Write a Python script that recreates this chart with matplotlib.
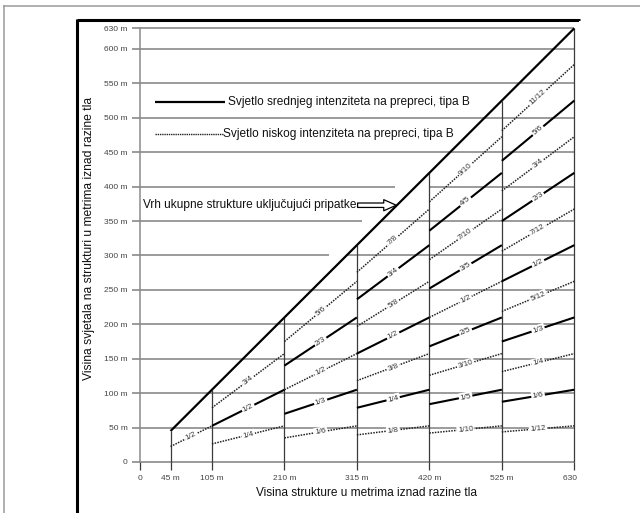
import numpy as np
import matplotlib
matplotlib.use('Agg')
import matplotlib.pyplot as plt
from matplotlib import font_manager
from matplotlib.lines import Line2D
from matplotlib.patches import Rectangle
from fractions import Fraction

# ---------------- data ----------------
structure_heights = [45, 105, 210, 315, 420, 525, 630]
x_ticks = [0, 45, 105, 210, 315, 420, 525, 630]
x_tick_labels = ['0', '45 m', '105 m', '210 m', '315 m', '420 m', '525 m', '630 m']
y_ticks = [0, 50, 100, 150, 200, 250, 300, 350, 400, 450, 500, 550, 600, 630]
y_tick_labels = ['0', '50 m', '100 m', '150 m', '200 m', '250 m', '300 m', '350 m',
                 '400 m', '450 m', '500 m', '550 m', '600 m', '630 m']
interval_starts = [45, 105, 210, 315, 420, 525]
interval_ends = [105, 210, 315, 420, 525, 630]
fractions = [
    ['1/2'],
    ['1/4', '1/2', '3/4'],
    ['1/6', '1/3', '1/2', '2/3', '5/6'],
    ['1/8', '1/4', '3/8', '1/2', '5/8', '3/4', '7/8'],
    ['1/10', '1/5', '3/10', '2/5', '1/2', '3/5', '7/10', '4/5', '9/10'],
    ['1/12', '1/6', '1/4', '1/3', '5/12', '1/2', '7/12', '2/3', '3/4', '5/6', '11/12'],
]
top_line_x = [45, 630]
top_line_y = [45, 630]
grid_gaps = {300: (274, 300), 350: (323, 350), 400: (370, 420)}

legend_medium = 'Svjetlo srednjeg intenziteta na prepreci, tipa B'
legend_low = 'Svjetlo niskog intenziteta na prepreci, tipa B'
annot_text = 'Vrh ukupne strukture uključujući pripatke'
xlabel = 'Visina strukture u metrima iznad razine tla'
ylabel = 'Visina svjetala na strukturi u metrima iznad razine tla'

# ---------------- fonts ----------------
names = {f.name for f in font_manager.fontManager.ttflist}
narrow = 'Liberation Sans Narrow' if 'Liberation Sans Narrow' in names else 'Liberation Sans'
plt.rcParams['font.family'] = [narrow, 'DejaVu Sans']

W, H = 640, 513
fig = plt.figure(figsize=(W / 100, H / 100), dpi=100)
fig.patch.set_facecolor('white')

def fx(px):
    return px / W

def fy(py):
    return 1 - py / H

# outer gray frame (top + left) and black clipped frame
fig.add_artist(Line2D([fx(4), 1], [fy(6), fy(6)], color='#9a9a9a', lw=1.1))
fig.add_artist(Line2D([fx(4), fx(4)], [fy(6), 0], color='#9a9a9a', lw=1.1))
fig.add_artist(Line2D([fx(77), fx(580)], [fy(19.5), fy(19.5)], color='black', lw=2.2, solid_capstyle='butt'))
fig.add_artist(Line2D([fx(77), fx(77)], [fy(18.5), 0], color='black', lw=2.2, solid_capstyle='butt'))

ax_l, ax_r, ax_t, ax_b = 139.5, 574.3, 28.3, 462.0
ax = fig.add_axes([fx(ax_l), fy(ax_b), fx(ax_r - ax_l), (ax_b - ax_t) / H])
ax.set_xlim(0, 630)
ax.set_ylim(0, 630)
ax.set_facecolor('none')

for s in ['top', 'right', 'bottom']:
    ax.spines[s].set_visible(False)
ax.spines['left'].set_color('#8a8a8a')
ax.spines['left'].set_linewidth(1.1)

grid_color = '#8a8a8a'
for yv in y_ticks:
    if yv in grid_gaps:
        g0, g1 = grid_gaps[yv]
        ax.hlines(yv, 0, g0, color=grid_color, lw=1.2, zorder=1, clip_on=False)
        ax.hlines(yv, g1, 630, color=grid_color, lw=1.2, zorder=1, clip_on=False)
    else:
        ax.hlines(yv, 0, 630, color=grid_color, lw=1.2, zorder=1, clip_on=False)

# structure vertical lines
for h in structure_heights:
    ax.vlines(h, 0, h, color='#3a3a3a', lw=0.9, zorder=2, clip_on=False)

# top of structure line
ax.plot(top_line_x, top_line_y, color='black', lw=1.6, zorder=3, clip_on=False,
        solid_capstyle='butt')

# fraction segments
fig.canvas.draw()
for a, b, fr_list in zip(interval_starts, interval_ends, fractions):
    for i, fs in enumerate(fr_list):
        k = float(Fraction(fs))
        dotted = (i % 2 == 0)
        if dotted:
            ax.plot([a, b], [k * a, k * b], color='#222222', lw=1.1,
                    linestyle=(0, (1, 0.8)), zorder=3, clip_on=False)
        else:
            ax.plot([a, b], [k * a, k * b], color='black', lw=1.5,
                    zorder=3, clip_on=False, solid_capstyle='butt')
        xm = (a + b) / 2
        p1 = ax.transData.transform((a, k * a))
        p2 = ax.transData.transform((b, k * b))
        ang = np.degrees(np.arctan2(p2[1] - p1[1], p2[0] - p1[0]))
        ax.text(xm, k * xm, fs, fontsize=5.8, color='#333333', rotation=ang,
                rotation_mode='anchor', ha='center', va='center', zorder=4,
                bbox=dict(boxstyle='square,pad=0.15', fc='white', ec='none'))

# ticks
ax.set_xticks(x_ticks)
ax.set_xticklabels(x_tick_labels)
ax.set_yticks(y_ticks)
ax.set_yticklabels(y_tick_labels)
ax.tick_params(axis='y', length=6, width=1.2, color=grid_color, pad=2.5,
               labelsize=6, labelcolor='#444444')
ax.tick_params(axis='x', length=6, width=0.9, color='#3a3a3a', pad=3.5,
               labelsize=6, labelcolor='#444444')
for lab in ax.get_xticklabels() + ax.get_yticklabels():
    lab.set_family(['Liberation Sans', 'DejaVu Sans'])

# legend
ax.plot([22.4, 123.8], [522.5, 522.5], color='black', lw=1.6, clip_on=False,
        solid_capstyle='butt')
ax.text(128.0, 522.5, legend_medium, fontsize=8.6, color='#111111', ha='left', va='center')
ax.plot([22.4, 121.0], [476, 476], color='#222222', lw=1.0, linestyle=(0, (1, 0.6)),
        clip_on=False)
ax.text(121.4, 476, legend_low, fontsize=8.6, color='#111111', ha='left', va='center')

# annotation with hollow arrow
ax.text(5, 373, annot_text, fontsize=8.6, color='#111111', ha='left', va='center')
ax.annotate('', xy=(372, 373), xytext=(316, 373),
            arrowprops=dict(arrowstyle='simple,head_length=0.9,head_width=0.8,tail_width=0.32',
                            fc='white', ec='black', lw=0.9, shrinkA=0, shrinkB=0))

# axis labels
fig.text(fx(366.5), fy(493.3), xlabel, fontsize=8.6, color='#111111', ha='center', va='center')
fig.text(fx(89), fy(238.5), ylabel, fontsize=8.7, color='#111111', ha='center', va='center',
         rotation=90)

# white region to the right of the clipped screenshot
fig.add_artist(Rectangle((fx(579), 0), 1 - fx(579), fy(21), transform=fig.transFigure,
                         fc='white', ec='none', zorder=10))

fig.savefig('out.png', dpi=100, facecolor='white')
